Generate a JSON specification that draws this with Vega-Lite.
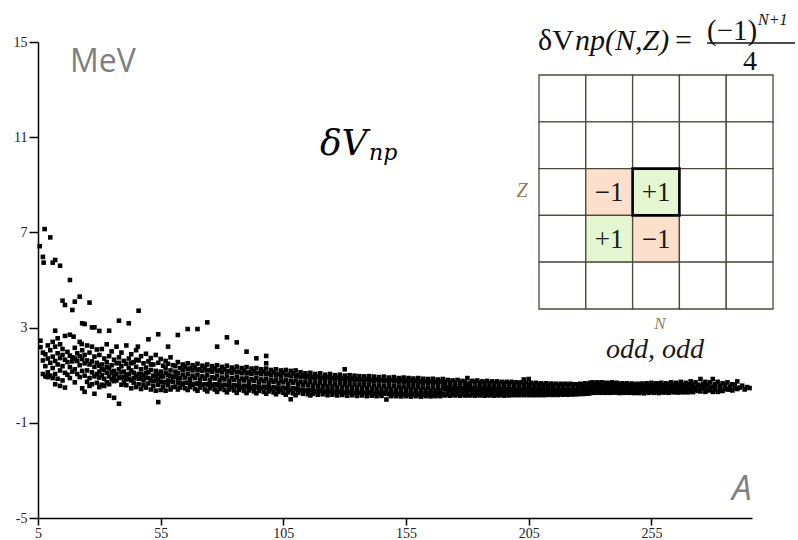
{
"$schema":"https://vega.github.io/schema/vega-lite/v6.json",
"width":714,"height":476,
"autosize":"none",
"padding":{"left":38,"top":42,"right":46,"bottom":22},
"background":"white",
"config":{"view":{"stroke":null}},
"datasets":{
"pts":[
{"A":5.7,"v":6.42},{"A":7.7,"v":7.14},{"A":10,"v":6.79},{"A":7,"v":5.97},{"A":7.3,"v":5.73},{"A":11,"v":5.73},{"A":12,"v":5.84},{"A":14,"v":5.6},{"A":18,"v":5.0},{"A":15,"v":4.13},{"A":16,"v":3.95},{"A":19,"v":3.74},{"A":20,"v":4.09},{"A":22,"v":4.3},{"A":26,"v":4.05},{"A":23,"v":3.18},{"A":24,"v":3.15},{"A":27,"v":3.01},{"A":28,"v":3.01},{"A":30,"v":2.86},{"A":34,"v":2.87},{"A":38,"v":3.29},{"A":42,"v":3.18},{"A":46,"v":3.71},{"A":50,"v":2.51},{"A":54,"v":2.72},{"A":12,"v":2.87},{"A":18,"v":2.7},{"A":58,"v":2.2},{"A":62,"v":2.69},{"A":66,"v":2.94},{"A":70,"v":2.94},{"A":74,"v":3.22},{"A":82,"v":2.59},{"A":86,"v":2.38},{"A":78,"v":2.2},{"A":90,"v":1.99},{"A":94,"v":1.71},{"A":98,"v":1.81},{"A":98,"v":1.5},{"A":45.7,"v":2.2},{"A":19.5,"v":2.62},{"A":22.8,"v":2.31},
{"A":6,"v":2.45},{"A":6,"v":2.18},{"A":7,"v":1.95},{"A":7,"v":1.62},{"A":7,"v":1.05},{"A":8,"v":1.88},{"A":8,"v":1.38},{"A":8,"v":0.95},{"A":9,"v":2.25},{"A":9,"v":1.7},{"A":9,"v":1.12},{"A":9,"v":0.92},{"A":10,"v":2.05},{"A":10,"v":1.52},{"A":10,"v":0.98},{"A":11,"v":2.4},{"A":11,"v":1.78},{"A":11,"v":1.3},{"A":11,"v":0.88},{"A":12,"v":2.2},{"A":12,"v":1.6},{"A":12,"v":1.05},{"A":12,"v":0.62},{"A":13,"v":2.55},{"A":13,"v":1.92},{"A":13,"v":1.45},{"A":13,"v":0.85},{"A":14,"v":2.3},{"A":14,"v":1.72},{"A":14,"v":1.2},{"A":14,"v":0.55},{"A":15,"v":2.1},{"A":15,"v":1.85},{"A":15,"v":1.38},{"A":15,"v":0.78},{"A":16,"v":2.65},{"A":16,"v":1.65},{"A":16,"v":1.1},{"A":16,"v":0.48},{"A":17,"v":1.98},{"A":17,"v":1.55},{"A":17,"v":1.02},{"A":18,"v":1.82},{"A":18,"v":1.34},{"A":18,"v":0.88},{"A":19,"v":1.75},{"A":19,"v":1.58},{"A":19,"v":1.15},{"A":20,"v":2.15},{"A":20,"v":1.7},{"A":20,"v":1.25},{"A":20,"v":0.7},{"A":21,"v":1.92},{"A":21,"v":1.6},{"A":21,"v":1.05},{"A":22,"v":2.4},{"A":22,"v":1.8},{"A":22,"v":1.42},{"A":22,"v":0.92},{"A":23,"v":2.05},{"A":23,"v":1.68},{"A":23,"v":1.18},{"A":23,"v":0.45},{"A":24,"v":1.85},{"A":24,"v":1.5},{"A":24,"v":0.98},{"A":24,"v":0.3},{"A":25,"v":2.25},{"A":25,"v":1.62},{"A":25,"v":1.2},{"A":25,"v":0.72},{"A":26,"v":1.95},{"A":26,"v":1.45},{"A":26,"v":0.88},{"A":26,"v":0.55},{"A":27,"v":2.2},{"A":27,"v":1.58},{"A":27,"v":1.12},{"A":27,"v":0.62},{"A":28,"v":1.78},{"A":28,"v":1.35},{"A":28,"v":0.95},{"A":28,"v":0.22},{"A":29,"v":2.08},{"A":29,"v":1.52},{"A":29,"v":1.05},{"A":29,"v":0.68},{"A":30,"v":1.85},{"A":30,"v":1.4},{"A":30,"v":0.9},{"A":30,"v":0.5},
{"A":31,"v":2.1},{"A":31,"v":1.45},{"A":31,"v":1.0},{"A":31,"v":0.6},{"A":32,"v":1.7},{"A":32,"v":1.22},{"A":32,"v":0.85},{"A":33,"v":2.3},{"A":33,"v":1.55},{"A":33,"v":1.1},{"A":33,"v":0.7},{"A":34,"v":1.8},{"A":34,"v":1.3},{"A":34,"v":0.95},{"A":34,"v":0.14},{"A":35,"v":2.0},{"A":35,"v":1.42},{"A":35,"v":0.82},{"A":36,"v":1.65},{"A":36,"v":1.18},{"A":36,"v":0.75},{"A":36,"v":0.05},{"A":37,"v":2.2},{"A":37,"v":1.5},{"A":37,"v":1.05},{"A":38,"v":1.75},{"A":38,"v":1.25},{"A":38,"v":0.88},{"A":38,"v":-0.2},{"A":39,"v":1.95},{"A":39,"v":1.38},{"A":39,"v":0.92},{"A":39,"v":0.6},{"A":40,"v":1.6},{"A":40,"v":1.15},{"A":40,"v":0.7},{"A":41,"v":2.25},{"A":41,"v":1.48},{"A":41,"v":1.02},{"A":41,"v":0.58},{"A":42,"v":1.7},{"A":42,"v":1.3},{"A":42,"v":0.85},{"A":43,"v":1.88},{"A":43,"v":1.2},{"A":43,"v":0.78},{"A":43,"v":0.45},{"A":44,"v":1.55},{"A":44,"v":1.1},{"A":44,"v":0.68},{"A":45,"v":2.05},{"A":45,"v":1.35},{"A":45,"v":0.95},{"A":45,"v":0.5},{"A":46,"v":1.62},{"A":46,"v":1.05},{"A":46,"v":0.62},{"A":47,"v":1.8},{"A":47,"v":1.25},{"A":47,"v":0.88},{"A":47,"v":0.42},{"A":48,"v":1.5},{"A":48,"v":1.0},{"A":48,"v":0.58},{"A":49,"v":1.9},{"A":49,"v":1.32},{"A":49,"v":0.9},{"A":49,"v":0.48},{"A":50,"v":1.58},{"A":50,"v":1.12},{"A":50,"v":0.65},{"A":51,"v":1.72},{"A":51,"v":1.22},{"A":51,"v":0.8},{"A":51,"v":0.4},{"A":52,"v":1.45},{"A":52,"v":0.98},{"A":52,"v":0.55},{"A":53,"v":1.85},{"A":53,"v":1.18},{"A":53,"v":0.78},{"A":53,"v":0.35},{"A":54,"v":1.52},{"A":54,"v":1.05},{"A":54,"v":0.6},{"A":54,"v":-0.13},{"A":55,"v":1.68},{"A":55,"v":1.15},{"A":55,"v":0.72},{"A":55,"v":0.38},{"A":56,"v":1.4},{"A":56,"v":0.95},{"A":56,"v":0.52},{"A":57,"v":1.6},{"A":57,"v":1.1},{"A":57,"v":0.7},{"A":57,"v":0.35},{"A":58,"v":1.48},{"A":58,"v":1.0},{"A":58,"v":0.58},{"A":59,"v":1.75},{"A":59,"v":1.2},{"A":59,"v":0.75},{"A":59,"v":0.4},{"A":60,"v":1.42},{"A":60,"v":0.92},{"A":60,"v":0.5},
{"A":61,"v":1.38},{"A":61,"v":0.95},{"A":61,"v":0.52},{"A":62,"v":1.55},{"A":62,"v":1.08},{"A":62,"v":0.7},{"A":62,"v":0.4},{"A":63,"v":1.3},{"A":63,"v":0.88},{"A":63,"v":0.48},{"A":64,"v":1.45},{"A":64,"v":1.02},{"A":64,"v":0.62},{"A":65,"v":1.35},{"A":65,"v":0.9},{"A":65,"v":0.45},{"A":66,"v":1.5},{"A":66,"v":1.05},{"A":66,"v":0.68},{"A":66,"v":0.38},{"A":67,"v":1.28},{"A":67,"v":0.85},{"A":67,"v":0.5},{"A":68,"v":1.42},{"A":68,"v":0.98},{"A":68,"v":0.6},{"A":69,"v":1.32},{"A":69,"v":0.88},{"A":69,"v":0.42},{"A":70,"v":1.48},{"A":70,"v":1.02},{"A":70,"v":0.65},{"A":70,"v":0.35},{"A":71,"v":1.25},{"A":71,"v":0.82},{"A":71,"v":0.48},{"A":72,"v":1.4},{"A":72,"v":0.95},{"A":72,"v":0.58},{"A":73,"v":1.3},{"A":73,"v":0.85},{"A":73,"v":0.4},{"A":74,"v":1.45},{"A":74,"v":1.0},{"A":74,"v":0.62},{"A":74,"v":0.32},{"A":75,"v":1.22},{"A":75,"v":0.8},{"A":75,"v":0.45},{"A":76,"v":1.38},{"A":76,"v":0.92},{"A":76,"v":0.55},{"A":77,"v":1.28},{"A":77,"v":0.86},{"A":77,"v":0.4},{"A":78,"v":1.42},{"A":78,"v":0.98},{"A":78,"v":0.6},{"A":78,"v":0.3},{"A":79,"v":1.2},{"A":79,"v":0.78},{"A":79,"v":0.42},{"A":80,"v":1.35},{"A":80,"v":0.9},{"A":80,"v":0.52},{"A":81,"v":1.25},{"A":81,"v":0.82},{"A":81,"v":0.38},{"A":82,"v":1.4},{"A":82,"v":0.95},{"A":82,"v":0.58},{"A":82,"v":0.28},{"A":83,"v":1.18},{"A":83,"v":0.76},{"A":83,"v":0.4},{"A":84,"v":1.32},{"A":84,"v":0.88},{"A":84,"v":0.5},{"A":85,"v":1.22},{"A":85,"v":0.8},{"A":85,"v":0.36},{"A":86,"v":1.36},{"A":86,"v":0.92},{"A":86,"v":0.55},{"A":86,"v":0.26},{"A":87,"v":1.15},{"A":87,"v":0.74},{"A":87,"v":0.38},{"A":88,"v":1.3},{"A":88,"v":0.86},{"A":88,"v":0.48},{"A":89,"v":1.2},{"A":89,"v":0.78},{"A":89,"v":0.34},{"A":90,"v":1.34},{"A":90,"v":0.9},{"A":90,"v":0.52},{"A":90,"v":0.25},{"A":91,"v":1.12},{"A":91,"v":0.72},{"A":91,"v":0.36},{"A":92,"v":1.28},{"A":92,"v":0.84},{"A":92,"v":0.46},{"A":93,"v":1.18},{"A":93,"v":0.76},{"A":93,"v":0.32},{"A":94,"v":1.3},{"A":94,"v":0.88},{"A":94,"v":0.5},{"A":94,"v":0.24},{"A":95,"v":1.1},{"A":95,"v":0.7},{"A":95,"v":0.34},{"A":96,"v":1.25},{"A":96,"v":0.82},{"A":96,"v":0.44},{"A":97,"v":1.15},{"A":97,"v":0.74},{"A":97,"v":0.3},{"A":98,"v":1.28},{"A":98,"v":0.85},{"A":98,"v":0.48},{"A":98,"v":0.22},{"A":99,"v":1.08},{"A":99,"v":0.68},{"A":99,"v":0.32},{"A":100,"v":1.22},{"A":100,"v":0.8},{"A":100,"v":0.42},{"A":101,"v":1.12},{"A":101,"v":0.72},{"A":101,"v":0.28},{"A":102,"v":1.25},{"A":102,"v":0.82},{"A":102,"v":0.45},{"A":102,"v":0.2},{"A":103,"v":1.05},{"A":103,"v":0.66},{"A":103,"v":0.3},{"A":104,"v":1.2},{"A":104,"v":0.78},{"A":104,"v":0.4},{"A":105,"v":1.1},{"A":105,"v":0.7},{"A":105,"v":0.26},{"A":106,"v":1.22},{"A":106,"v":0.8},{"A":106,"v":0.44},{"A":106,"v":0.18},{"A":107,"v":1.02},{"A":107,"v":0.64},{"A":107,"v":0.28},{"A":108,"v":1.18},{"A":108,"v":0.76},{"A":108,"v":0.38},{"A":108,"v":-0.01},{"A":109,"v":1.08},{"A":109,"v":0.68},{"A":109,"v":0.24},{"A":110,"v":1.2},{"A":110,"v":0.78},{"A":110,"v":0.42},{"A":110,"v":0.16},
{"A":111,"v":1.0},{"A":111,"v":0.62},{"A":111,"v":0.26},{"A":112,"v":1.12},{"A":112,"v":0.72},{"A":112,"v":0.36},{"A":113,"v":0.98},{"A":113,"v":0.6},{"A":113,"v":0.22},{"A":114,"v":1.08},{"A":114,"v":0.7},{"A":114,"v":0.34},{"A":115,"v":0.95},{"A":115,"v":0.58},{"A":115,"v":0.2},{"A":116,"v":1.1},{"A":116,"v":0.72},{"A":116,"v":0.38},{"A":116,"v":0.15},{"A":117,"v":0.92},{"A":117,"v":0.56},{"A":117,"v":0.22},{"A":118,"v":1.05},{"A":118,"v":0.68},{"A":118,"v":0.32},{"A":119,"v":0.94},{"A":119,"v":0.55},{"A":119,"v":0.18},{"A":120,"v":1.08},{"A":120,"v":0.7},{"A":120,"v":0.35},{"A":121,"v":0.9},{"A":121,"v":0.54},{"A":121,"v":0.2},{"A":122,"v":1.02},{"A":122,"v":0.66},{"A":122,"v":0.3},{"A":123,"v":0.92},{"A":123,"v":0.52},{"A":123,"v":0.16},{"A":124,"v":1.05},{"A":124,"v":0.68},{"A":124,"v":0.33},{"A":125,"v":0.88},{"A":125,"v":0.52},{"A":125,"v":0.18},{"A":126,"v":1.0},{"A":126,"v":0.64},{"A":126,"v":0.28},{"A":127,"v":0.9},{"A":127,"v":0.5},{"A":127,"v":0.15},{"A":128,"v":1.02},{"A":128,"v":0.66},{"A":128,"v":0.3},{"A":129,"v":0.86},{"A":129,"v":0.5},{"A":129,"v":0.17},{"A":130,"v":1.25},{"A":130,"v":0.98},{"A":130,"v":0.62},{"A":130,"v":0.26},{"A":131,"v":0.88},{"A":131,"v":0.48},{"A":131,"v":0.14},{"A":132,"v":1.0},{"A":132,"v":0.62},{"A":132,"v":0.27},{"A":133,"v":0.85},{"A":133,"v":0.48},{"A":133,"v":0.16},{"A":134,"v":0.98},{"A":134,"v":0.6},{"A":134,"v":0.25},{"A":135,"v":0.84},{"A":135,"v":0.46},{"A":135,"v":0.13},{"A":136,"v":0.96},{"A":136,"v":0.6},{"A":136,"v":0.26},{"A":137,"v":0.82},{"A":137,"v":0.46},{"A":137,"v":0.15},{"A":138,"v":0.95},{"A":138,"v":0.58},{"A":138,"v":0.24},{"A":139,"v":0.84},{"A":139,"v":0.45},{"A":139,"v":0.12},{"A":140,"v":0.96},{"A":140,"v":0.6},{"A":140,"v":0.26},{"A":141,"v":0.8},{"A":141,"v":0.44},{"A":141,"v":0.14},{"A":142,"v":0.94},{"A":142,"v":0.56},{"A":142,"v":0.22},{"A":143,"v":0.82},{"A":143,"v":0.44},{"A":143,"v":0.12},{"A":144,"v":0.92},{"A":144,"v":0.56},{"A":144,"v":0.24},{"A":145,"v":0.8},{"A":145,"v":0.42},{"A":145,"v":0.13},{"A":146,"v":0.94},{"A":146,"v":0.55},{"A":146,"v":0.22},{"A":147,"v":0.78},{"A":147,"v":0.42},{"A":147,"v":-0.02},{"A":148,"v":0.9},{"A":148,"v":0.54},{"A":148,"v":0.2},{"A":149,"v":0.8},{"A":149,"v":0.42},{"A":149,"v":0.12},{"A":150,"v":0.92},{"A":150,"v":0.55},{"A":150,"v":0.22},{"A":151,"v":0.78},{"A":151,"v":0.4},{"A":151,"v":0.12},{"A":152,"v":0.88},{"A":152,"v":0.52},{"A":152,"v":0.2},{"A":153,"v":0.8},{"A":153,"v":0.42},{"A":153,"v":0.11},{"A":154,"v":0.9},{"A":154,"v":0.52},{"A":154,"v":0.2},{"A":155,"v":0.76},{"A":155,"v":0.4},{"A":155,"v":0.12},{"A":156,"v":0.88},{"A":156,"v":0.5},{"A":156,"v":0.18},{"A":157,"v":0.78},{"A":157,"v":0.4},{"A":157,"v":0.1},{"A":158,"v":0.86},{"A":158,"v":0.5},{"A":158,"v":0.2},{"A":159,"v":0.76},{"A":159,"v":0.38},{"A":159,"v":0.12},{"A":160,"v":0.88},{"A":160,"v":0.5},{"A":160,"v":0.18},{"A":161,"v":0.74},{"A":161,"v":0.38},{"A":161,"v":0.1},{"A":162,"v":0.85},{"A":162,"v":0.48},{"A":162,"v":0.18},{"A":163,"v":0.76},{"A":163,"v":0.38},{"A":163,"v":0.12},{"A":164,"v":0.84},{"A":164,"v":0.48},{"A":164,"v":0.19},{"A":165,"v":0.74},{"A":165,"v":0.36},{"A":165,"v":0.11},{"A":166,"v":0.85},{"A":166,"v":0.48},{"A":166,"v":0.18},{"A":167,"v":0.72},{"A":167,"v":0.36},{"A":167,"v":0.12},{"A":168,"v":0.82},{"A":168,"v":0.46},{"A":168,"v":0.18},{"A":169,"v":0.74},{"A":169,"v":0.36},{"A":169,"v":0.12},{"A":170,"v":0.84},{"A":170,"v":0.47},{"A":170,"v":0.2},
{"A":171,"v":0.72},{"A":171,"v":0.4},{"A":171,"v":0.15},{"A":172,"v":0.8},{"A":172,"v":0.48},{"A":172,"v":0.2},{"A":173,"v":0.7},{"A":173,"v":0.38},{"A":173,"v":0.14},{"A":174,"v":0.78},{"A":174,"v":0.46},{"A":174,"v":0.2},{"A":175,"v":0.7},{"A":175,"v":0.38},{"A":175,"v":0.15},{"A":176,"v":0.8},{"A":176,"v":0.46},{"A":176,"v":0.2},{"A":177,"v":0.68},{"A":177,"v":0.38},{"A":177,"v":0.14},{"A":178,"v":0.76},{"A":178,"v":0.44},{"A":178,"v":0.19},{"A":179,"v":0.7},{"A":179,"v":0.36},{"A":179,"v":0.15},{"A":180,"v":0.88},{"A":180,"v":0.6},{"A":180,"v":0.32},{"A":180,"v":0.16},{"A":181,"v":0.68},{"A":181,"v":0.38},{"A":181,"v":0.15},{"A":182,"v":0.76},{"A":182,"v":0.45},{"A":182,"v":0.2},{"A":183,"v":0.7},{"A":183,"v":0.36},{"A":183,"v":0.14},{"A":184,"v":0.78},{"A":184,"v":0.44},{"A":184,"v":0.19},{"A":185,"v":0.68},{"A":185,"v":0.37},{"A":185,"v":0.15},{"A":186,"v":0.74},{"A":186,"v":0.44},{"A":186,"v":0.2},{"A":187,"v":0.68},{"A":187,"v":0.36},{"A":187,"v":0.14},{"A":188,"v":0.76},{"A":188,"v":0.44},{"A":188,"v":0.19},{"A":189,"v":0.66},{"A":189,"v":0.36},{"A":189,"v":0.15},{"A":190,"v":0.74},{"A":190,"v":0.42},{"A":190,"v":0.18},{"A":191,"v":0.66},{"A":191,"v":0.36},{"A":191,"v":0.14},{"A":192,"v":0.74},{"A":192,"v":0.42},{"A":192,"v":0.19},{"A":193,"v":0.65},{"A":193,"v":0.35},{"A":193,"v":0.15},{"A":194,"v":0.72},{"A":194,"v":0.42},{"A":194,"v":0.18},{"A":195,"v":0.66},{"A":195,"v":0.35},{"A":195,"v":0.14},{"A":196,"v":0.72},{"A":196,"v":0.42},{"A":196,"v":0.19},{"A":197,"v":0.64},{"A":197,"v":0.35},{"A":197,"v":0.15},{"A":198,"v":0.72},{"A":198,"v":0.4},{"A":198,"v":0.18},{"A":199,"v":0.65},{"A":199,"v":0.35},{"A":199,"v":0.16},{"A":200,"v":0.7},{"A":200,"v":0.42},{"A":200,"v":0.18},{"A":201,"v":0.64},{"A":201,"v":0.34},{"A":201,"v":0.16},{"A":202,"v":0.7},{"A":202,"v":0.4},{"A":202,"v":0.2},{"A":203,"v":0.82},{"A":203,"v":0.62},{"A":203,"v":0.34},{"A":203,"v":0.16},{"A":204,"v":0.7},{"A":204,"v":0.42},{"A":204,"v":0.2},{"A":205,"v":0.84},{"A":205,"v":0.6},{"A":205,"v":0.34},{"A":205,"v":0.16},{"A":206,"v":0.68},{"A":206,"v":0.4},{"A":206,"v":0.19},{"A":207,"v":0.62},{"A":207,"v":0.34},{"A":207,"v":0.16},{"A":208,"v":0.68},{"A":208,"v":0.4},{"A":208,"v":0.19},{"A":209,"v":0.62},{"A":209,"v":0.34},{"A":209,"v":0.16},{"A":210,"v":0.66},{"A":210,"v":0.4},{"A":210,"v":0.2},{"A":211,"v":0.6},{"A":211,"v":0.34},{"A":211,"v":0.16},{"A":212,"v":0.66},{"A":212,"v":0.4},{"A":212,"v":0.2},{"A":213,"v":0.6},{"A":213,"v":0.34},{"A":213,"v":0.17},{"A":214,"v":0.65},{"A":214,"v":0.38},{"A":214,"v":0.2},{"A":215,"v":0.6},{"A":215,"v":0.33},{"A":215,"v":0.17},{"A":216,"v":0.64},{"A":216,"v":0.38},{"A":216,"v":0.2},{"A":217,"v":0.58},{"A":217,"v":0.33},{"A":217,"v":0.17},{"A":218,"v":0.64},{"A":218,"v":0.38},{"A":218,"v":0.21},{"A":219,"v":0.6},{"A":219,"v":0.34},{"A":219,"v":0.18},{"A":220,"v":0.64},{"A":220,"v":0.38},{"A":220,"v":0.2},{"A":221,"v":0.58},{"A":221,"v":0.33},{"A":221,"v":0.18},{"A":222,"v":0.64},{"A":222,"v":0.38},{"A":222,"v":0.21},{"A":223,"v":0.58},{"A":223,"v":0.34},{"A":223,"v":0.19},{"A":224,"v":0.62},{"A":224,"v":0.38},{"A":224,"v":0.21},{"A":225,"v":0.6},{"A":225,"v":0.35},{"A":225,"v":0.2},{"A":226,"v":0.64},{"A":226,"v":0.4},{"A":226,"v":0.22},{"A":227,"v":0.6},{"A":227,"v":0.36},{"A":227,"v":0.21},{"A":228,"v":0.66},{"A":228,"v":0.42},{"A":228,"v":0.23},{"A":229,"v":0.62},{"A":229,"v":0.38},{"A":229,"v":0.22},{"A":230,"v":0.68},{"A":230,"v":0.44},{"A":230,"v":0.24},
{"A":231,"v":0.7},{"A":231,"v":0.48},{"A":231,"v":0.27},{"A":232,"v":0.64},{"A":232,"v":0.42},{"A":232,"v":0.26},{"A":233,"v":0.7},{"A":233,"v":0.5},{"A":233,"v":0.28},{"A":234,"v":0.66},{"A":234,"v":0.44},{"A":234,"v":0.26},{"A":235,"v":0.7},{"A":235,"v":0.48},{"A":235,"v":0.28},{"A":236,"v":0.64},{"A":236,"v":0.42},{"A":236,"v":0.26},{"A":237,"v":0.68},{"A":237,"v":0.48},{"A":237,"v":0.28},{"A":238,"v":0.64},{"A":238,"v":0.44},{"A":238,"v":0.26},{"A":239,"v":0.7},{"A":239,"v":0.5},{"A":239,"v":0.28},{"A":240,"v":0.65},{"A":240,"v":0.44},{"A":240,"v":0.27},{"A":241,"v":0.68},{"A":241,"v":0.47},{"A":241,"v":0.28},{"A":242,"v":0.62},{"A":242,"v":0.42},{"A":242,"v":0.25},{"A":243,"v":0.66},{"A":243,"v":0.46},{"A":243,"v":0.28},{"A":244,"v":0.62},{"A":244,"v":0.42},{"A":244,"v":0.26},{"A":245,"v":0.66},{"A":245,"v":0.46},{"A":245,"v":0.28},{"A":246,"v":0.6},{"A":246,"v":0.4},{"A":246,"v":0.26},{"A":247,"v":0.65},{"A":247,"v":0.45},{"A":247,"v":0.28},{"A":248,"v":0.6},{"A":248,"v":0.4},{"A":248,"v":0.25},{"A":249,"v":0.64},{"A":249,"v":0.44},{"A":249,"v":0.27},{"A":250,"v":0.6},{"A":250,"v":0.4},{"A":250,"v":0.25},{"A":251,"v":0.65},{"A":251,"v":0.46},{"A":251,"v":0.28},{"A":252,"v":0.58},{"A":252,"v":0.4},{"A":252,"v":0.24},{"A":253,"v":0.66},{"A":253,"v":0.48},{"A":253,"v":0.3},{"A":254,"v":0.6},{"A":254,"v":0.42},{"A":254,"v":0.26},{"A":255,"v":0.68},{"A":255,"v":0.5},{"A":255,"v":0.3},{"A":256,"v":0.6},{"A":256,"v":0.42},{"A":256,"v":0.26},{"A":257,"v":0.66},{"A":257,"v":0.48},{"A":257,"v":0.3},{"A":258,"v":0.62},{"A":258,"v":0.4},{"A":258,"v":0.25},{"A":259,"v":0.68},{"A":259,"v":0.5},{"A":259,"v":0.3},{"A":260,"v":0.6},{"A":260,"v":0.42},{"A":260,"v":0.27},{"A":261,"v":0.66},{"A":261,"v":0.46},{"A":261,"v":0.3},{"A":262,"v":0.62},{"A":262,"v":0.4},{"A":262,"v":0.26},{"A":263,"v":0.7},{"A":263,"v":0.5},{"A":263,"v":0.32},{"A":264,"v":0.6},{"A":264,"v":0.44},{"A":264,"v":0.28},{"A":265,"v":0.68},{"A":265,"v":0.48},{"A":265,"v":0.3},{"A":266,"v":0.62},{"A":266,"v":0.42},{"A":266,"v":0.27},{"A":267,"v":0.72},{"A":267,"v":0.52},{"A":267,"v":0.32},{"A":268,"v":0.6},{"A":268,"v":0.44},{"A":268,"v":0.28},{"A":269,"v":0.68},{"A":269,"v":0.48},{"A":269,"v":0.3},{"A":270,"v":0.62},{"A":270,"v":0.42},{"A":270,"v":0.28},{"A":271,"v":0.74},{"A":271,"v":0.5},{"A":271,"v":0.32},{"A":272,"v":0.62},{"A":272,"v":0.44},{"A":272,"v":0.29},{"A":273,"v":0.7},{"A":273,"v":0.48},{"A":274,"v":0.6},{"A":274,"v":0.34},{"A":275,"v":0.84},{"A":275,"v":0.55},{"A":275,"v":0.32},{"A":276,"v":0.64},{"A":276,"v":0.44},{"A":277,"v":0.72},{"A":277,"v":0.5},{"A":277,"v":0.3},{"A":278,"v":0.58},{"A":278,"v":0.36},{"A":279,"v":0.7},{"A":279,"v":0.48},{"A":280,"v":0.84},{"A":280,"v":0.52},{"A":280,"v":0.3},{"A":281,"v":0.62},{"A":281,"v":0.4},{"A":282,"v":0.72},{"A":282,"v":0.3},{"A":283,"v":0.56},{"A":283,"v":0.42},{"A":284,"v":0.66},{"A":284,"v":0.34},{"A":285,"v":0.58},{"A":286,"v":0.7},{"A":286,"v":0.4},{"A":287,"v":0.52},{"A":288,"v":0.62},{"A":288,"v":0.36},{"A":289,"v":0.48},{"A":290,"v":0.74},{"A":290,"v":0.42},{"A":292,"v":0.56},{"A":293,"v":0.4},{"A":294,"v":0.5},
{"A":30,"v":1.15},{"A":31,"v":1.25},{"A":32,"v":0.55},{"A":33,"v":1.35},{"A":34,"v":0.62},{"A":35,"v":1.12},{"A":36,"v":0.95},{"A":37,"v":0.78},{"A":38,"v":1.52},{"A":39,"v":1.12},{"A":40,"v":0.9},{"A":41,"v":0.82},{"A":42,"v":1.05},{"A":43,"v":1.5},{"A":44,"v":0.88},{"A":45,"v":1.65},{"A":46,"v":0.85},{"A":47,"v":1.05},{"A":48,"v":0.78},{"A":49,"v":1.1},{"A":50,"v":0.88},{"A":51,"v":1.45},{"A":52,"v":0.75},{"A":53,"v":0.98},{"A":54,"v":0.82},{"A":55,"v":0.95},{"A":56,"v":0.72},{"A":57,"v":1.3},{"A":58,"v":0.78},{"A":59,"v":0.98},{"A":60,"v":0.72},
{"A":61,"v":1.15},{"A":62,"v":0.88},{"A":63,"v":0.68},{"A":64,"v":1.22},{"A":65,"v":0.68},{"A":66,"v":1.25},{"A":67,"v":0.66},{"A":68,"v":1.2},{"A":69,"v":0.64},{"A":70,"v":1.22},{"A":71,"v":0.64},{"A":72,"v":1.18},{"A":73,"v":0.62},{"A":74,"v":1.2},{"A":75,"v":0.62},{"A":76,"v":1.15},{"A":77,"v":0.62},{"A":78,"v":1.18},{"A":79,"v":0.6},{"A":80,"v":1.12},{"A":81,"v":0.6},{"A":82,"v":1.15},{"A":83,"v":0.58},{"A":84,"v":1.1},{"A":85,"v":0.58},{"A":86,"v":1.12},{"A":87,"v":0.56},{"A":88,"v":1.08},{"A":89,"v":0.56},{"A":90,"v":1.1},{"A":91,"v":0.54},{"A":92,"v":1.06},{"A":93,"v":0.54},{"A":94,"v":1.08},{"A":95,"v":0.52},{"A":96,"v":1.04},{"A":97,"v":0.52},{"A":98,"v":1.05},{"A":99,"v":0.5},{"A":100,"v":1.0},{"A":101,"v":0.5},{"A":102,"v":1.02},{"A":103,"v":0.48},{"A":104,"v":0.98},{"A":105,"v":0.48},{"A":106,"v":1.0},{"A":107,"v":0.46},{"A":108,"v":0.96},{"A":109,"v":0.46},{"A":110,"v":0.98},
{"A":111,"v":0.44},{"A":112,"v":0.92},{"A":113,"v":0.4},{"A":114,"v":0.9},{"A":115,"v":0.38},{"A":116,"v":0.9},{"A":117,"v":0.38},{"A":118,"v":0.86},{"A":119,"v":0.36},{"A":120,"v":0.88},{"A":121,"v":0.36},{"A":122,"v":0.84},{"A":123,"v":0.34},{"A":124,"v":0.86},{"A":125,"v":0.34},{"A":126,"v":0.82},{"A":127,"v":0.32},{"A":128,"v":0.84},{"A":129,"v":0.32},{"A":130,"v":0.8},{"A":131,"v":0.3},{"A":132,"v":0.8},{"A":133,"v":0.32},{"A":134,"v":0.78},{"A":135,"v":0.3},{"A":136,"v":0.78},{"A":137,"v":0.3},{"A":138,"v":0.76},{"A":139,"v":0.28},{"A":140,"v":0.78},{"A":141,"v":0.28},{"A":142,"v":0.74},{"A":143,"v":0.28},{"A":144,"v":0.74},{"A":145,"v":0.27},{"A":146,"v":0.74},{"A":147,"v":0.26},{"A":148,"v":0.72},{"A":149,"v":0.26},{"A":150,"v":0.74},{"A":151,"v":0.26},{"A":152,"v":0.7},{"A":153,"v":0.26},{"A":154,"v":0.7},{"A":155,"v":0.26},{"A":156,"v":0.68},{"A":157,"v":0.25},{"A":158,"v":0.68},{"A":159,"v":0.25},{"A":160,"v":0.68},{"A":161,"v":0.24},{"A":162,"v":0.66},{"A":163,"v":0.24},{"A":164,"v":0.66},{"A":165,"v":0.24},{"A":166,"v":0.66},{"A":167,"v":0.24},{"A":168,"v":0.64},{"A":169,"v":0.24},{"A":170,"v":0.65},
{"A":171,"v":0.56},{"A":172,"v":0.3},{"A":173,"v":0.55},{"A":174,"v":0.32},{"A":175,"v":0.54},{"A":176,"v":0.32},{"A":177,"v":0.53},{"A":178,"v":0.3},{"A":179,"v":0.53},{"A":180,"v":0.46},{"A":181,"v":0.52},{"A":182,"v":0.3},{"A":183,"v":0.52},{"A":184,"v":0.3},{"A":185,"v":0.52},{"A":186,"v":0.3},{"A":187,"v":0.52},{"A":188,"v":0.3},{"A":189,"v":0.5},{"A":190,"v":0.28},{"A":191,"v":0.5},{"A":192,"v":0.28},{"A":193,"v":0.5},{"A":194,"v":0.28},{"A":195,"v":0.5},{"A":196,"v":0.3},{"A":197,"v":0.5},{"A":198,"v":0.28},{"A":199,"v":0.5},{"A":200,"v":0.3},{"A":201,"v":0.49},{"A":202,"v":0.3},{"A":203,"v":0.48},{"A":204,"v":0.3},{"A":205,"v":0.48},{"A":206,"v":0.3},{"A":207,"v":0.48},{"A":208,"v":0.28},{"A":209,"v":0.48},{"A":210,"v":0.3},{"A":211,"v":0.47},{"A":212,"v":0.3},{"A":213,"v":0.47},{"A":214,"v":0.28},{"A":215,"v":0.46},{"A":216,"v":0.29},{"A":217,"v":0.46},{"A":218,"v":0.29},{"A":219,"v":0.47},{"A":220,"v":0.3},{"A":221,"v":0.46},{"A":222,"v":0.3},{"A":223,"v":0.46},{"A":224,"v":0.3},{"A":225,"v":0.48},{"A":226,"v":0.31},{"A":227,"v":0.48},{"A":228,"v":0.32},{"A":229,"v":0.5},{"A":230,"v":0.34},
{"A":231,"v":0.58},{"A":232,"v":0.36},{"A":233,"v":0.6},{"A":234,"v":0.36},{"A":235,"v":0.58},{"A":236,"v":0.35},{"A":237,"v":0.58},{"A":238,"v":0.36},{"A":239,"v":0.6},{"A":240,"v":0.36},{"A":241,"v":0.58},{"A":242,"v":0.34},{"A":243,"v":0.56},{"A":244,"v":0.34},{"A":245,"v":0.56},{"A":246,"v":0.33},{"A":247,"v":0.55},{"A":248,"v":0.33},{"A":249,"v":0.54},{"A":250,"v":0.33},{"A":251,"v":0.56},{"A":252,"v":0.32},{"A":253,"v":0.57},{"A":254,"v":0.34},{"A":255,"v":0.58},{"A":256,"v":0.34},{"A":257,"v":0.57},{"A":258,"v":0.33},{"A":259,"v":0.58},{"A":260,"v":0.35},{"A":261,"v":0.56},{"A":262,"v":0.34},{"A":263,"v":0.6},{"A":264,"v":0.36},{"A":265,"v":0.58},{"A":266,"v":0.35},{"A":267,"v":0.62},{"A":268,"v":0.36},{"A":269,"v":0.58},{"A":270,"v":0.36},{"A":271,"v":0.62},{"A":272,"v":0.37},
{"A":273,"v":0.38},{"A":275,"v":0.44},{"A":277,"v":0.6},{"A":279,"v":0.38},{"A":281,"v":0.52},{"A":283,"v":0.34},{"A":285,"v":0.44},{"A":287,"v":0.4},{"A":289,"v":0.6},{"A":291,"v":0.48},{"A":295,"v":0.46}
],
"cells":[
{"n":-2,"z":2,"c":""},{"n":-1,"z":2,"c":""},{"n":0,"z":2,"c":""},{"n":1,"z":2,"c":""},{"n":2,"z":2,"c":""},
{"n":-2,"z":1,"c":""},{"n":-1,"z":1,"c":""},{"n":0,"z":1,"c":""},{"n":1,"z":1,"c":""},{"n":2,"z":1,"c":""},
{"n":-2,"z":0,"c":""},{"n":-1,"z":0,"c":"−1"},{"n":0,"z":0,"c":"+1"},{"n":1,"z":0,"c":""},{"n":2,"z":0,"c":""},
{"n":-2,"z":-1,"c":""},{"n":-1,"z":-1,"c":"+1"},{"n":0,"z":-1,"c":"−1"},{"n":1,"z":-1,"c":""},{"n":2,"z":-1,"c":""},
{"n":-2,"z":-2,"c":""},{"n":-1,"z":-2,"c":""},{"n":0,"z":-2,"c":""},{"n":1,"z":-2,"c":""},{"n":2,"z":-2,"c":""}
]
},
"layer":[
{"layer":[
{"data":{"name":"pts"},
"mark":{"type":"square","size":21,"color":"#000","opacity":1},
"encoding":{
"x":{"field":"A","type":"quantitative","scale":{"domain":[5,296],"nice":false,"zero":false},
"axis":{"values":[5,55,105,155,205,255],"title":null,"grid":false,"tickSize":7,"tickColor":"#000","tickWidth":1.5,"domainColor":"#000","domainWidth":1.5,"labelFont":"Liberation Serif","labelFontSize":14,"labelColor":"#222","labelPadding":1,"labelFlush":false,"labelOverlap":false}},
"y":{"field":"v","type":"quantitative","scale":{"domain":[-5,15],"nice":false,"zero":false},
"axis":{"values":[-5,-1,3,7,11,15],"title":null,"grid":false,"tickSize":9,"tickColor":"#000","tickWidth":1.5,"domainColor":"#000","domainWidth":1.5,"labelFont":"Liberation Serif","labelFontSize":14,"labelColor":"#222","labelPadding":2,"labelFlush":false,"labelOverlap":false,"labelExpr":"'' + datum.value"}}
}},
{"data":{"values":[{"t":"MeV"}]},
"mark":{"type":"text","font":"Open Sans","fontSize":32,"color":"#808080","align":"left","baseline":"alphabetic"},
"encoding":{"x":{"datum":18,"type":"quantitative"},"y":{"datum":13.74,"type":"quantitative"},"text":{"field":"t"}}},
{"data":{"values":[{"t":"A"}]},
"mark":{"type":"text","font":"Open Sans","fontSize":35,"fontStyle":"italic","color":"#808080","align":"left","baseline":"alphabetic"},
"encoding":{"x":{"datum":287.8,"type":"quantitative"},"y":{"datum":-4.24,"type":"quantitative"},"text":{"field":"t"}}},
{"data":{"values":[{"t":"δV"}]},
"mark":{"type":"text","font":"DejaVu Serif","fontSize":36,"fontStyle":"italic","color":"#000","align":"left","baseline":"alphabetic"},
"encoding":{"x":{"datum":119.9,"type":"quantitative"},"y":{"datum":10.25,"type":"quantitative"},"text":{"field":"t"}}},
{"data":{"values":[{"t":"np"}]},
"mark":{"type":"text","font":"DejaVu Serif","fontSize":22,"fontStyle":"italic","color":"#000","align":"left","baseline":"alphabetic"},
"encoding":{"x":{"datum":139.9,"type":"quantitative"},"y":{"datum":10.04,"type":"quantitative"},"text":{"field":"t"}}}
]},
{"layer":[
{"data":{"name":"cells"},
"mark":{"type":"square","size":2190,"filled":true,"stroke":"#4d4838","strokeWidth":1.3,"opacity":1},
"encoding":{
"x":{"field":"n","type":"quantitative","scale":{"domain":[-13.205,2.051],"nice":false,"zero":false},"axis":null},
"y":{"field":"z","type":"quantitative","scale":{"domain":[-6.966,3.205],"nice":false,"zero":false},"axis":null},
"color":{"field":"c","type":"nominal","scale":{"domain":["","−1","+1"],"range":["#ffffff","#fde0cc","#e4f7d0"]},"legend":null}
}},
{"data":{"name":"cells"},
"transform":[{"filter":"datum.n == 0 && datum.z == 0"}],
"mark":{"type":"square","size":2190,"filled":false,"stroke":"#000","strokeWidth":2.6,"opacity":1},
"encoding":{"x":{"field":"n","type":"quantitative","axis":null},"y":{"field":"z","type":"quantitative","axis":null}}},
{"data":{"name":"cells"},
"mark":{"type":"text","font":"Liberation Serif","fontSize":27,"color":"#1a1a1a","align":"center","baseline":"middle","dy":1},
"encoding":{"x":{"field":"n","type":"quantitative","axis":null},"y":{"field":"z","type":"quantitative","axis":null},"text":{"field":"c"}}},
{"data":{"values":[{"t":"δV"}]},
"mark":{"type":"text","font":"Liberation Serif","fontSize":30,"color":"#111","align":"left","baseline":"alphabetic"},
"encoding":{"x":{"datum":-2.521,"type":"quantitative","axis":null},"y":{"datum":3.034,"type":"quantitative","axis":null},"text":{"field":"t"}}},
{"data":{"values":[{"t":"np(N,Z)"}]},
"mark":{"type":"text","font":"Liberation Serif","fontSize":30,"fontStyle":"italic","color":"#111","align":"left","baseline":"alphabetic"},
"encoding":{"x":{"datum":-1.731,"type":"quantitative","axis":null},"y":{"datum":3.034,"type":"quantitative","axis":null},"text":{"field":"t"}}},
{"data":{"values":[{"t":"="}]},
"mark":{"type":"text","font":"Liberation Serif","fontSize":30,"color":"#111","align":"left","baseline":"alphabetic"},
"encoding":{"x":{"datum":0.406,"type":"quantitative","axis":null},"y":{"datum":3.034,"type":"quantitative","axis":null},"text":{"field":"t"}}},
{"data":{"values":[{"t":"(−1)"}]},
"mark":{"type":"text","font":"Liberation Serif","fontSize":29,"color":"#111","align":"left","baseline":"alphabetic"},
"encoding":{"x":{"datum":1.09,"type":"quantitative","axis":null},"y":{"datum":3.248,"type":"quantitative","axis":null},"text":{"field":"t"}}},
{"data":{"values":[{"t":"N+1"}]},
"mark":{"type":"text","font":"Liberation Serif","fontSize":16,"fontStyle":"italic","color":"#111","align":"left","baseline":"alphabetic"},
"encoding":{"x":{"datum":2.179,"type":"quantitative","axis":null},"y":{"datum":3.568,"type":"quantitative","axis":null},"text":{"field":"t"}}},
{"data":{"values":[{}]},
"mark":{"type":"rule","color":"#111","strokeWidth":1.5},
"encoding":{"x":{"datum":1.09,"type":"quantitative","axis":null},"x2":{"datum":2.97},"y":{"datum":3.184,"type":"quantitative","axis":null}}},
{"data":{"values":[{"t":"4"}]},
"mark":{"type":"text","font":"Liberation Serif","fontSize":28,"color":"#111","align":"center","baseline":"alphabetic"},
"encoding":{"x":{"datum":2.009,"type":"quantitative","axis":null},"y":{"datum":2.607,"type":"quantitative","axis":null},"text":{"field":"t"}}},
{"data":{"values":[{"t":"Z"}]},
"mark":{"type":"text","font":"Liberation Serif","fontSize":20,"fontStyle":"italic","color":"#8f8058","align":"center","baseline":"alphabetic"},
"encoding":{"x":{"datum":-2.863,"type":"quantitative","axis":null},"y":{"datum":-0.107,"type":"quantitative","axis":null},"text":{"field":"t"}}},
{"data":{"values":[{"t":"N"}]},
"mark":{"type":"text","font":"Liberation Serif","fontSize":17,"fontStyle":"italic","color":"#8f8058","align":"center","baseline":"alphabetic"},
"encoding":{"x":{"datum":0.085,"type":"quantitative","axis":null},"y":{"datum":-2.93,"type":"quantitative","axis":null},"text":{"field":"t"}}},
{"data":{"values":[{"t":"odd, odd"}]},
"mark":{"type":"text","font":"Liberation Serif","fontSize":28,"fontStyle":"italic","color":"#1a1a1a","align":"center","baseline":"alphabetic"},
"encoding":{"x":{"datum":-0.02,"type":"quantitative","axis":null},"y":{"datum":-3.54,"type":"quantitative","axis":null},"text":{"field":"t"}}}
]}
],
"resolve":{"scale":{"x":"independent","y":"independent"},"axis":{"x":"independent","y":"independent"}}
}
